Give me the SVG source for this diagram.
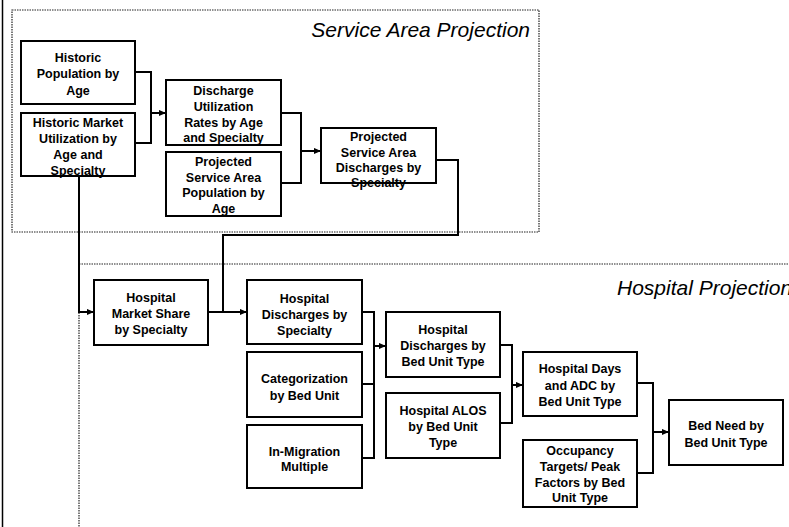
<svg xmlns="http://www.w3.org/2000/svg" width="789" height="527" viewBox="0 0 789 527">
<defs>
<marker id="ah" viewBox="0 0 8 8" refX="8" refY="4" markerWidth="7" markerHeight="7" markerUnits="userSpaceOnUse" orient="auto">
<path d="M0,0.5 L8,4 L0,7.5 Z" fill="#000"/>
</marker>
<style>
.box{fill:#fff;stroke:#000;stroke-width:2}
.lbl{font-family:"Liberation Sans",Arial,sans-serif;font-size:12.5px;font-weight:bold;text-anchor:middle;fill:#000}
.title{font-family:"Liberation Sans",Arial,sans-serif;font-size:21px;font-style:italic;fill:#000}
.dot{fill:none;stroke:#222;stroke-width:1.2;stroke-dasharray:1.5 1}
.con{fill:none;stroke:#000;stroke-width:2}
.arr{fill:none;stroke:#000;stroke-width:2;marker-end:url(#ah)}
</style>
</defs>
<rect width="789" height="527" fill="#fff"/>
<line x1="2.5" y1="0" x2="2.5" y2="527" stroke="#000" stroke-width="1.5"/>
<g id="service-area-region">
<rect class="dot" x="12" y="10" width="527" height="222"/>
<text class="title" x="530" y="37" text-anchor="end">Service Area Projection</text>
</g>
<g id="hospital-region">
<rect class="dot" x="79" y="264" width="800" height="400"/>
<text class="title" x="617" y="295">Hospital Projection</text>
</g>
<g id="connectors">
<path class="con" d="M135,72 H151 V143 H135"/>
<path class="arr" d="M151,113 H166"/>
<path class="con" d="M281,113 H301 V183 H281"/>
<path class="arr" d="M301,151 H321"/>
<path class="con" d="M436,160 H458 V235 H223 V312"/>
<path class="arr" d="M208,312 H247"/>
<path class="con" d="M79,176 V312"/>
<path class="arr" d="M78,312 H94"/>
<path class="con" d="M362,312 H374 V458 H362"/>
<path class="con" d="M362,384 H374"/>
<path class="arr" d="M374,346 H386"/>
<path class="con" d="M500,345 H512 V423 H500"/>
<path class="arr" d="M512,385 H523"/>
<path class="con" d="M637,383 H653 V473 H637"/>
<path class="arr" d="M653,432 H669"/>
</g>
<g id="n1">
<rect class="box" x="21" y="41" width="114" height="63"/>
<text class="lbl" x="78" y="61.5">Historic</text>
<text class="lbl" x="78" y="78">Population by</text>
<text class="lbl" x="78" y="94.5">Age</text>
</g>
<g id="n2">
<rect class="box" x="21" y="113" width="114" height="63"/>
<text class="lbl" x="78" y="126.5">Historic Market</text>
<text class="lbl" x="78" y="142.5">Utilization by</text>
<text class="lbl" x="78" y="158.5">Age and</text>
<text class="lbl" x="78" y="174.5">Specialty</text>
</g>
<g id="n3">
<rect class="box" x="166" y="80" width="115" height="65"/>
<text class="lbl" x="223.5" y="94.5">Discharge</text>
<text class="lbl" x="223.5" y="110.5">Utilization</text>
<text class="lbl" x="223.5" y="126.5">Rates by Age</text>
<text class="lbl" x="223.5" y="142">and Specialty</text>
</g>
<g id="n4">
<rect class="box" x="166" y="152" width="115" height="64"/>
<text class="lbl" x="223.5" y="166">Projected</text>
<text class="lbl" x="223.5" y="181.5">Service Area</text>
<text class="lbl" x="223.5" y="197">Population by</text>
<text class="lbl" x="223.5" y="213">Age</text>
</g>
<g id="n5">
<rect class="box" x="321" y="128" width="115" height="55"/>
<text class="lbl" x="378.5" y="141">Projected</text>
<text class="lbl" x="378.5" y="156.5">Service Area</text>
<text class="lbl" x="378.5" y="172">Discharges by</text>
<text class="lbl" x="378.5" y="187">Specialty</text>
</g>
<g id="n6">
<rect class="box" x="94" y="280" width="114" height="65"/>
<text class="lbl" x="151" y="301.5">Hospital</text>
<text class="lbl" x="151" y="317.5">Market Share</text>
<text class="lbl" x="151" y="333.5">by Specialty</text>
</g>
<g id="n7">
<rect class="box" x="247" y="280" width="115" height="64"/>
<text class="lbl" x="304.5" y="302.5">Hospital</text>
<text class="lbl" x="304.5" y="318.5">Discharges by</text>
<text class="lbl" x="304.5" y="334.5">Specialty</text>
</g>
<g id="n8">
<rect class="box" x="247" y="352" width="115" height="65"/>
<text class="lbl" x="304.5" y="382.5">Categorization</text>
<text class="lbl" x="304.5" y="399.5">by Bed Unit</text>
</g>
<g id="n9">
<rect class="box" x="247" y="425" width="115" height="63"/>
<text class="lbl" x="304.5" y="455.5">In-Migration</text>
<text class="lbl" x="304.5" y="471">Multiple</text>
</g>
<g id="n10">
<rect class="box" x="386" y="312" width="114" height="65"/>
<text class="lbl" x="443" y="333.5">Hospital</text>
<text class="lbl" x="443" y="350">Discharges by</text>
<text class="lbl" x="443" y="366">Bed Unit Type</text>
</g>
<g id="n11">
<rect class="box" x="386" y="393" width="114" height="65"/>
<text class="lbl" x="443" y="414.5">Hospital ALOS</text>
<text class="lbl" x="443" y="430.5">by Bed Unit</text>
<text class="lbl" x="443" y="446.5">Type</text>
</g>
<g id="n12">
<rect class="box" x="523" y="352" width="114" height="64"/>
<text class="lbl" x="580" y="372.5">Hospital Days</text>
<text class="lbl" x="580" y="389.5">and ADC by</text>
<text class="lbl" x="580" y="406">Bed Unit Type</text>
</g>
<g id="n13">
<rect class="box" x="523" y="440" width="114" height="67"/>
<text class="lbl" x="580" y="454.5">Occupancy</text>
<text class="lbl" x="580" y="470.5">Targets/ Peak</text>
<text class="lbl" x="580" y="486.5">Factors by Bed</text>
<text class="lbl" x="580" y="502">Unit Type</text>
</g>
<g id="n14">
<rect class="box" x="669" y="400" width="114" height="65"/>
<text class="lbl" x="726" y="430">Bed Need by</text>
<text class="lbl" x="726" y="447">Bed Unit Type</text>
</g>
</svg>
